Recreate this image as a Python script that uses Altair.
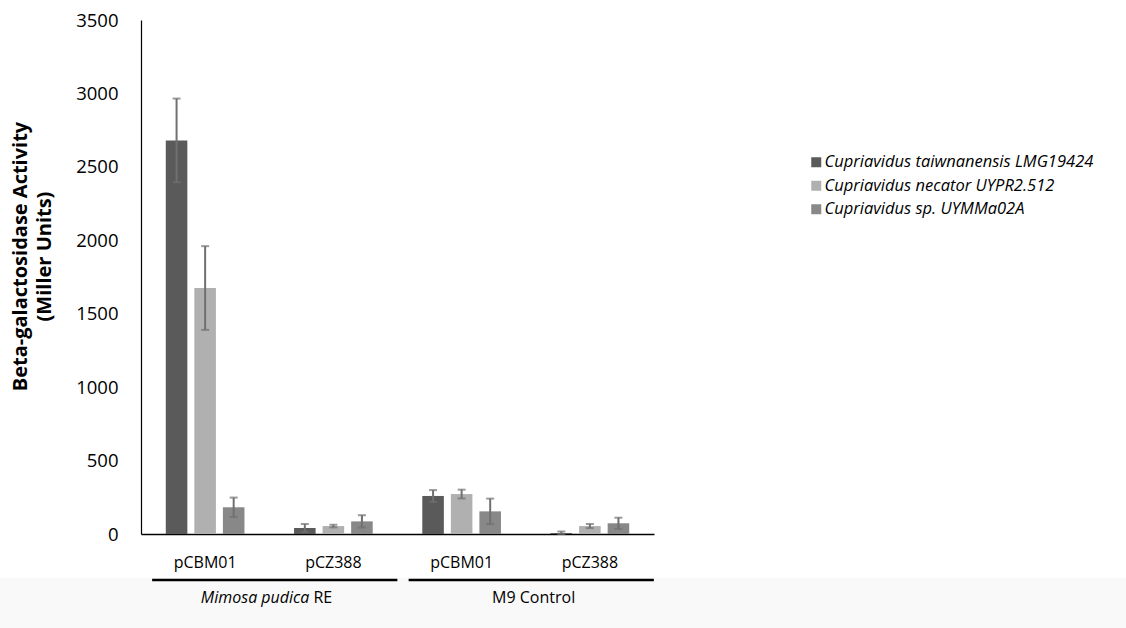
import altair as alt
import pandas as pd

# ---- data ----
groups = ["Mimosa pudica RE", "Mimosa pudica RE", "M9 Control", "M9 Control"]
plasmids = ["pCBM01", "pCZ388", "pCBM01", "pCZ388"]
series = [
    "Cupriavidus taiwnanensis LMG19424",
    "Cupriavidus necator UYPR2.512",
    "Cupriavidus sp.  UYMMa02A",
]
values = [
    [2680, 41, 259, 7],      # taiwnanensis
    [1675, 54, 272, 54],     # necator
    [182, 86, 154, 73],      # sp.
]
errors = [
    [285, 27, 40, 10],
    [285, 9, 30, 14],
    [66, 42, 87, 38],
]
colors = ["#5a5a5a", "#b0b0b0", "#888888"]
y_ticks = [0, 500, 1000, 1500, 2000, 2500, 3000, 3500]

cats = [f"{g}|{p}" for g, p in zip(groups, plasmids)]
rows = []
for si, s in enumerate(series):
    for ci, c in enumerate(cats):
        v = values[si][ci]
        e = errors[si][ci]
        rows.append({"cat": c, "series": s, "value": v,
                     "lo": max(v - e, 0), "hi": v + e})
df = pd.DataFrame(rows)

FONT = "Open Sans"
xscale = alt.Scale(domain=cats, paddingInner=0, paddingOuter=0)

xenc = alt.X("cat:N", scale=xscale,
             axis=alt.Axis(title=None, labelExpr="split(datum.label,'|')[1]",
                           labelAngle=0, labelFontSize=16, labelFont=FONT,
                           labelColor="#000000", labelPadding=20, ticks=False,
                           domainColor="#000000", domainWidth=1.5))
xoff = alt.XOffset("series:N", sort=series,
                   scale=alt.Scale(domain=series, paddingInner=0.245, paddingOuter=0.868))

base = alt.Chart(df)

bars = base.mark_bar().encode(
    x=xenc,
    xOffset=xoff,
    y=alt.Y("value:Q", scale=alt.Scale(domain=[0, 3500]),
            axis=alt.Axis(values=y_ticks, format="d",
                          grid=False, ticks=False, labelFontSize=18.5,
                          labelFont=FONT, labelColor="#000000", labelPadding=23,
                          domainColor="#000000", domainWidth=1.2,
                          title=["Beta-galactosidase Activity", "(Miller Units)"],
                          titleFont=FONT, titleFontSize=20, titleFontWeight="bold",
                          titleColor="#000000", titlePadding=21, titleLineHeight=24,
                          titleY=236)),
    color=alt.Color("series:N", sort=series,
                    scale=alt.Scale(domain=series, range=colors),
                    legend=alt.Legend(title=None, orient="none", legendX=667,
                                      legendY=134, symbolType="square",
                                      symbolSize=100, symbolStrokeWidth=0,
                                      labelFont=FONT, labelFontSize=16.5,
                                      labelFontStyle="italic", labelColor="#000000",
                                      labelOffset=0, rowPadding=6.5, labelLimit=400)),
)

err = base.mark_rule(color="#707070", strokeWidth=2).encode(
    x=alt.X("cat:N", scale=xscale), xOffset=xoff,
    y="lo:Q", y2="hi:Q")
cap_hi = base.mark_tick(color="#707070", thickness=2, size=8).encode(
    x=alt.X("cat:N", scale=xscale), xOffset=xoff, y="hi:Q")
cap_lo = base.mark_tick(color="#707070", thickness=2, size=8).encode(
    x=alt.X("cat:N", scale=xscale), xOffset=xoff, y="lo:Q")

# ---- group annotations ----
gdf = pd.DataFrame({
    "first": [cats[0], cats[2]],
    "second": [cats[1], cats[3]],
    "name": ["Mimosa pudica RE", "M9 Control"],
})
band_bg = alt.Chart(pd.DataFrame({"k": [0]})).mark_rect(color="#f9f9f9").encode(
    x=alt.value(-141), x2=alt.value(985), y=alt.value(558), y2=alt.value(608))
glines = alt.Chart(gdf).mark_rule(color="#000000", strokeWidth=2.5,
                                  xOffset=-53, x2Offset=64).encode(
    x=alt.X("first:N", scale=xscale), x2="second:N", y=alt.value(560))
g1a = alt.Chart(gdf.iloc[[0]]).mark_text(
    text="Mimosa pudica", fontStyle="italic", font=FONT, fontSize=16,
    align="right", baseline="middle", dx=-24, color="#000000").encode(
    x=alt.X("second:N", scale=xscale), y=alt.value(578))
g1b = alt.Chart(gdf.iloc[[0]]).mark_text(
    text="RE", font=FONT, fontSize=16,
    align="left", baseline="middle", dx=-20, color="#000000").encode(
    x=alt.X("second:N", scale=xscale), y=alt.value(578))
g2 = alt.Chart(gdf.iloc[[1]]).mark_text(
    font=FONT, fontSize=16, align="center", baseline="middle", dx=72,
    color="#000000").encode(
    x=alt.X("first:N", scale=xscale), y=alt.value(578), text="name:N")

chart = alt.layer(band_bg, bars, err, cap_hi, cap_lo, glines, g1a, g1b, g2).properties(
    width=513, height=514,
    autosize=alt.AutoSizeParams(type="none"),
    padding={"left": 141, "top": 20, "right": 472, "bottom": 94},
    background="#ffffff",
).configure_view(stroke=None)

chart.save("out.html", embed_options={"renderer": "svg", "actions": False})
